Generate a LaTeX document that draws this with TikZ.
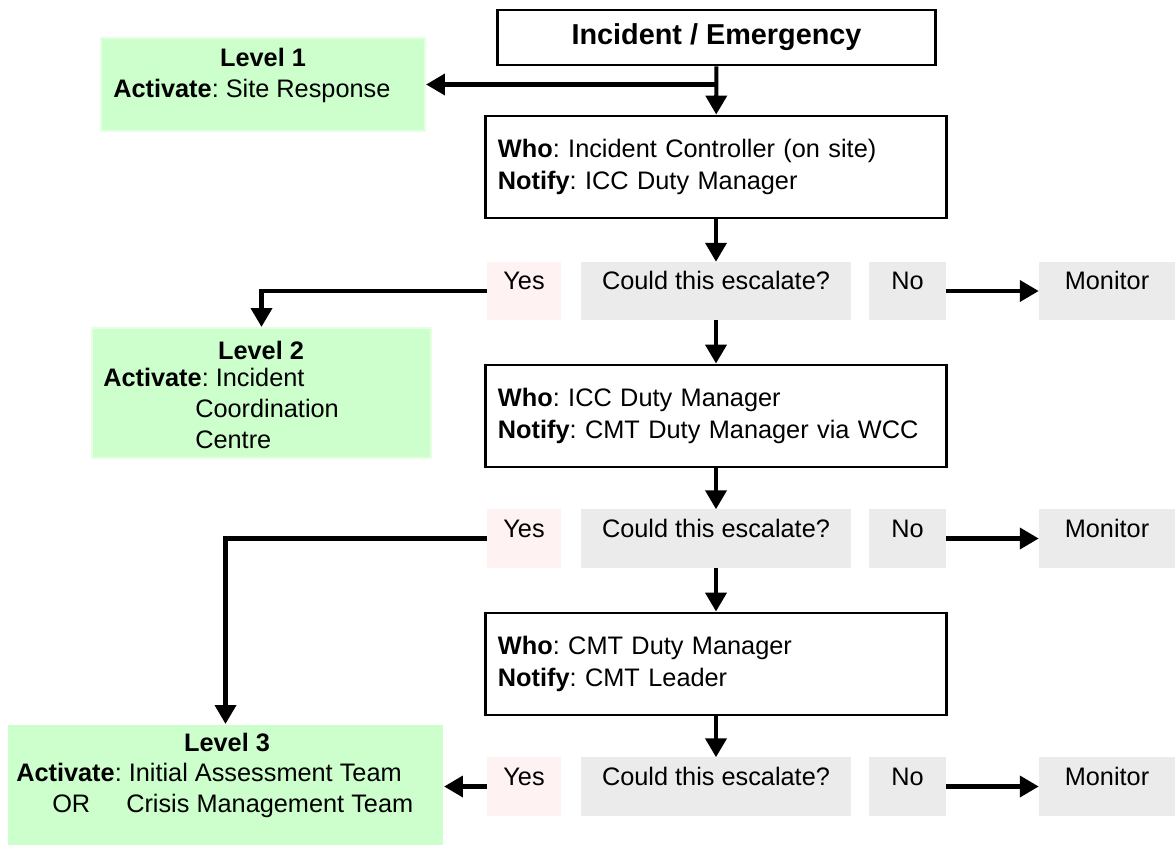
\documentclass[tikz,border=0pt]{standalone}
\usepackage{fontspec}
\setmainfont{Liberation Sans}
\usetikzlibrary{arrows.meta}
\definecolor{lvlgreen}{HTML}{CCFFCC}
\definecolor{lvledge}{HTML}{E4FFE4}
\definecolor{yespink}{HTML}{FFF2F2}
\definecolor{escgrey}{HTML}{EBEBEB}
\frenchspacing
\begin{document}
\begin{tikzpicture}[x=0.025cm,y=-0.025cm,
  every node/.style={font=\fontsize{18}{22}\selectfont},
  startbox/.style={draw,line width=2.1pt,minimum width=10.925cm,minimum height=1.375cm,
    font=\fontsize{20.5}{24}\selectfont\bfseries},
  whobox/.style={draw,line width=2.1pt,text width=10.9cm,inner xsep=0.3cm,inner ysep=0pt,
    minimum height=2.55cm,align=left,font=\fontsize{18}{23}\selectfont},
  rowbox/.style={inner sep=0pt,text height=0.5cm,text depth=0.56cm,minimum height=1.45cm},
  yesbox/.style={rowbox,fill=yespink,minimum width=1.85cm},
  escbox/.style={rowbox,fill=escgrey,minimum width=6.75cm},
  nobox/.style={rowbox,fill=escgrey,minimum width=1.925cm},
  monbox/.style={rowbox,fill=escgrey,minimum width=3.4cm},
  lvlbox/.style={fill=lvlgreen,draw=lvledge,line width=1.5pt,inner sep=0pt},
  lvlhead/.style={inner sep=0pt,font=\fontsize{18}{22}\selectfont\bfseries},
  lvltext/.style={inner sep=0pt,align=left,anchor=north west},
  arr/.style={line width=2.9pt,-{Triangle[length=0.47cm,width=0.52cm]}}]
\useasboundingbox (0,0) rectangle (1175,845);
% main column
\node[startbox] (inc) at (716.5,37.5) {Incident / Emergency};
\node[whobox] (who1) at (716,167) {\textbf{Who}: Incident Controller (on site)\\\textbf{Notify}: ICC Duty Manager};
\node[whobox] (who2) at (716,416) {\textbf{Who}: ICC Duty Manager\\\textbf{Notify}: CMT Duty Manager via WCC};
\node[whobox] (who3) at (716,664) {\textbf{Who}: CMT Duty Manager\\\textbf{Notify}: CMT Leader};
% decision rows
\node[yesbox] (yes1) at (524,291) {Yes};
\node[escbox] (esc1) at (716,291) {Could this escalate?};
\node[nobox] (no1) at (907.5,291) {No};
\node[monbox] (mon1) at (1107,291) {Monitor};
\node[yesbox] (yes2) at (524,538.5) {Yes};
\node[escbox] (esc2) at (716,538.5) {Could this escalate?};
\node[nobox] (no2) at (907.5,538.5) {No};
\node[monbox] (mon2) at (1107,538.5) {Monitor};
\node[yesbox] (yes3) at (524,786.5) {Yes};
\node[escbox] (esc3) at (716,786.5) {Could this escalate?};
\node[nobox] (no3) at (907.5,786.5) {No};
\node[monbox] (mon3) at (1107,786.5) {Monitor};
% levels
\node[lvlbox,minimum width=8.1cm,minimum height=2.325cm] (lvl1) at (263,84.5) {};
\node[lvlhead] (lvl1h) at (263,57) {Level 1};
\node[inner sep=0pt,anchor=west] (lvl1b) at (113,91) {\textbf{Activate}: Site Response};
\node[lvlbox,minimum width=8.475cm,minimum height=3.25cm] (lvl2) at (261.5,393) {};
\node[lvlhead] (lvl2h) at (261,350) {Level 2};
\node[lvltext] (lvl2b) at (103,368) {\textbf{Activate}: Incident\\\hspace*{2.3cm}Coordination\\\hspace*{2.3cm}Centre};
\node[lvlbox,draw=none,minimum width=10.875cm,minimum height=3cm] (lvl3) at (225.5,785) {};
\node[lvlhead] (lvl3h) at (227,742) {Level 3};
\node[lvltext] (lvl3b) at (16,763) {\textbf{Activate}: Initial Assessment Team\\\hspace*{0.9cm}OR\hspace{0.9cm}Crisis Management Team};
% connectors
\draw[arr] (inc) to (who1);
\draw[arr] (inc.south |- lvl1.east) to (lvl1.east);
\draw[arr] (who1) to (esc1);
\draw[arr] (esc1) to (who2);
\draw[arr] (who2) to (esc2);
\draw[arr] (esc2) to (who3);
\draw[arr] (who3) to (esc3);
\draw[arr] (yes1.west) -| (lvl2.north);
\draw[arr] (yes2.west) -| (lvl3.north);
\draw[arr] (yes3.west) to (lvl3.east |- yes3.west);
\draw[arr] (no1) to (mon1);
\draw[arr] (no2) to (mon2);
\draw[arr] (no3) to (mon3);
\end{tikzpicture}
\end{document}
